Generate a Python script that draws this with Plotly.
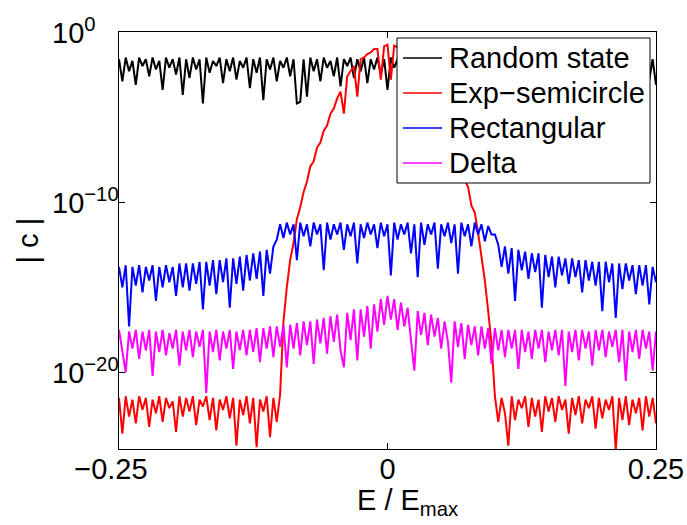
#%% Libraries
import numpy as np
import plotly.graph_objects as go

#%% Data (log10 |c|, 161 samples from E=-0.25 to 0.25)
log_random = [-1.6,-2.9,-1.5,-2.3,-1.7,-3.1,-1.5,-2.0,-1.6,-2.6,-1.5,-2.2,-1.7,-3.4,-1.5,-2.1,-1.6,-2.5,-1.5,-3.7,
              -1.6,-2.7,-1.5,-2.2,-1.6,-4.2,-1.5,-2.4,-1.7,-2.0,-1.5,-3.0,-1.6,-2.3,-1.5,-2.8,-1.7,-2.1,-1.5,-3.3,
              -1.6,-2.4,-1.5,-4.0,-1.6,-2.2,-1.5,-2.9,-1.7,-2.1,-1.5,-2.6,-1.6,-4.2,-4.1,-1.6,-3.8,-1.5,-2.3,-1.6,
              -2.9,-1.5,-2.1,-1.7,-2.6,-1.5,-3.2,-1.6,-2.0,-1.5,-2.7,-1.6,-2.3,-1.5,-3.0,-1.6,-2.2,-1.5,-2.5,-1.6,
              -3.4,-1.5,-2.1,-1.6,-2.8,-1.5,-2.3,-1.7,-3.6,-1.5,-2.0,-1.6,-2.6,-1.5,-2.2,-1.6,-3.1,-1.5,-2.4,-1.6,
              -2.0,-1.5,-2.9,-1.6,-2.2,-1.5,-2.7,-1.7,-2.1,-1.5,-3.5,-1.6,-2.3,-1.5,-2.6,-1.6,-2.0,-1.5,-3.0,-1.6,
              -2.2,-1.5,-2.8,-1.6,-2.1,-1.5,-3.9,-1.6,-2.4,-1.5,-2.0,-1.7,-2.7,-1.5,-2.2,-1.6,-3.2,-1.5,-2.5,-1.6,
              -2.1,-1.5,-2.9,-1.6,-2.3,-1.5,-3.4,-1.6,-2.0,-1.5,-2.6,-1.7,-2.2,-1.5,-3.0,-1.6,-2.4,-1.5,-2.8,-1.6,
              -3.1]

log_expsc = [-21.5,-23.6,-21.4,-22.6,-21.6,-23.0,-21.4,-22.2,-21.5,-23.2,-21.6,-22.4,-21.4,-22.9,-21.5,-22.1,-21.7,-23.5,-21.4,-22.6,
             -21.5,-22.3,-21.4,-23.1,-21.6,-22.0,-21.4,-22.8,-21.5,-23.4,-21.6,-22.2,-21.4,-22.7,-21.5,-24.3,-21.6,-22.5,-21.4,-23.0,
             -21.5,-24.4,-21.6,-22.3,-21.4,-23.8,-21.5,-22.9,
             -21.3,-17.0,-15.0,-13.4,-12.4,-11.0,-10.3,-9.4,-8.8,-7.9,-7.6,-6.8,-6.5,-5.8,-5.5,-4.8,-4.5,-3.9,-3.5,-4.8,
             -2.6,-2.3,-2.0,-3.8,-1.6,-1.5,-1.3,-1.2,-1.0,-1.0,-2.8,-0.85,-0.75,
             -2.8,-0.8,-0.9,-1.4,-1.0,-1.1,-1.6,-1.4,-1.5,-2.3,-1.9,-2.2,-2.9,-2.9,-3.3,-4.2,-4.3,-4.9,-5.9,-6.2,
             -7.0,-8.1,-8.7,-9.1,-10.2,-10.6,-11.8,-13.2,-14.6,-16.4,-18.3,-21.4,
             -22.9,-21.5,-22.4,-24.3,-21.4,-22.8,-21.6,-22.1,-21.4,-23.2,-21.5,-22.6,-21.6,-23.5,-21.4,-22.3,-21.5,-22.9,-21.4,-22.2,
             -21.6,-23.6,-21.5,-22.5,-21.4,-23.0,-21.6,-22.1,-21.4,-23.3,-21.5,-22.7,-21.6,-22.2,-21.4,-24.6,-21.5,-22.8,-21.4,-23.1,
             -21.6,-22.4,-21.5,-23.4,-21.4,-22.6,-21.5,-23.0]

log_rect = [-13.8,-15.0,-13.7,-17.3,-13.8,-14.9,-13.7,-15.3,-13.8,-14.6,-13.7,-15.8,-13.8,-15.0,-13.7,-14.7,-13.8,-15.5,-13.6,-15.0,
            -13.6,-15.2,-13.6,-14.8,-13.5,-16.3,-13.5,-14.9,-13.4,-15.4,-13.4,-14.7,-13.3,-16.2,-13.3,-14.8,-13.2,-15.2,-13.1,-14.6,
            -13.0,-14.5,-12.9,-15.5,-12.8,-14.2,-12.6,-12.2,
            -11.3,-12.1,-11.2,-11.9,-11.3,-13.4,-11.2,-12.0,-11.3,-12.6,-11.2,-11.9,-11.3,-14.0,-11.2,-12.2,-11.3,-11.9,-11.2,-12.8,
            -11.3,-12.0,-11.2,-13.6,-11.3,-12.1,-11.2,-11.9,-11.3,-12.7,-11.2,-12.0,-11.3,-14.3,-11.2,-12.2,-11.3,-11.9,-11.2,-13.0,
            -11.3,-14.4,-11.2,-12.5,-11.3,-11.9,-11.2,-13.9,-11.3,-12.0,-11.2,-12.4,-11.3,-14.2,-11.2,-12.0,-11.3,-12.6,-11.2,-11.9,
            -11.3,-12.3,-11.4,-11.9,-11.9,
            -12.5,-13.8,-12.6,-14.2,-12.7,-15.8,-12.8,-14.0,-12.9,-14.5,-13.0,-14.1,-13.0,-16.2,-13.1,-14.4,-13.2,-15.0,-13.2,-14.3,
            -13.3,-14.8,-13.3,-14.4,-13.4,-15.3,-13.4,-14.6,-13.5,-14.9,-13.5,-16.4,-13.5,-14.7,-13.6,-16.8,-13.6,-15.1,-13.6,-14.6,
            -13.7,-15.4,-13.7,-14.9,-13.7,-16.0,-13.8,-14.7]

log_delta = [-17.5,-18.9,-20.0,-17.6,-18.6,-17.5,-19.2,-17.6,-18.7,-17.5,-20.2,-17.6,-18.8,-17.5,-19.0,-17.7,-18.6,-17.5,-19.6,-17.6,
             -18.7,-17.5,-19.1,-17.6,-18.5,-17.5,-21.2,-17.6,-18.8,-17.5,-19.3,-17.6,-18.6,-17.5,-19.8,-17.6,-18.7,-17.5,-19.0,-17.5,
             -18.8,-17.4,-19.4,-17.4,-18.6,-17.3,-19.1,-17.3,-18.5,-17.2,-19.7,-17.2,-18.6,-17.1,-19.0,-17.0,-18.4,-17.0,-19.5,-16.9,
             -18.3,-16.8,-18.9,-16.7,-18.2,-16.6,-18.7,-19.7,-16.5,-18.1,-16.3,-19.3,-16.3,-17.9,-16.1,-18.6,-16.0,-17.6,-15.7,-17.2,
             -15.5,-16.9,-15.7,-17.5,-15.9,-17.3,-16.2,-18.1,-19.9,-16.4,-17.8,-16.5,-18.4,-16.6,-17.9,-16.8,-18.6,-17.0,-18.2,-20.6,
             -17.0,-18.5,-17.1,-19.2,-17.2,-18.4,-17.3,-19.0,-17.3,-18.6,-17.4,-19.5,-17.4,-18.7,-17.5,-19.1,-17.5,-18.6,-17.5,-19.8,
             -17.5,-18.8,-17.6,-19.2,-17.5,-18.6,-17.5,-19.4,-17.6,-18.7,-17.5,-19.0,-17.5,-20.8,-17.6,-18.8,-17.5,-19.3,-17.5,-18.6,
             -17.6,-19.6,-17.5,-18.7,-17.5,-19.1,-17.6,-18.5,-17.5,-19.4,-17.5,-20.5,-17.6,-18.8,-17.5,-19.2,-17.5,-18.6,-17.6,-19.9,
             -17.6]

series_names = ['Random state', 'Exp\u2212semicircle', 'Rectangular', 'Delta']
series_colors = ['#000000', '#ff0000', '#0000ff', '#ff00ff']

x_ticks = [-0.25, 0, 0.25]
x_ticklabels = ['\u22120.25\u00a0\u00a0', '0', '0.25']
y_ticks = [1e-20, 1e-10, 1]
y_ticklabels = ['10<sup>\u221220</sup>', '10<sup>\u221210</sup>', '10<sup>0</sup>']

for s in [log_random, log_expsc, log_rect, log_delta]:
    assert len(s) == 161, len(s)

E = np.linspace(-0.25, 0.25, 161)

#%% Figure
FONT = 'Liberation Sans, Arial, Helvetica, sans-serif'
L, R, T, B = 119, 656, 32, 449      # plot box in pixels
def px(x):  return (x - L) / (R - L)
def py(y):  return (B - y) / (B - T)

fig = go.Figure()
for name, vals, col in zip(series_names, [log_random, log_expsc, log_rect, log_delta], series_colors):
    fig.add_trace(go.Scatter(x=E, y=10.0**np.array(vals), mode='lines', name=name,
                             line=dict(color=col, width=2), showlegend=False))

# y tick labels: MATLAB keeps the "10" base left aligned
for v, t in zip(y_ticks, y_ticklabels):
    fig.add_annotation(x=px(50), y=np.log10(v), xref='paper', yref='y', text=t,
                       showarrow=False, xanchor='left', yanchor='middle', yshift=1,
                       font=dict(size=29, color='black', family=FONT))

# axis labels
fig.add_annotation(x=px(27), y=0.5, xref='paper', yref='paper', text='| c |',
                   textangle=-90, showarrow=False, xanchor='center', yanchor='middle',
                   font=dict(size=29, color='black', family=FONT))
fig.add_annotation(x=px(355), y=py(502), xref='paper', yref='paper',
                   text='E / E<sub>max</sub>', showarrow=False, xanchor='left', yanchor='middle',
                   font=dict(size=29, color='black', family=FONT))

# legend box drawn by hand (MATLAB style)
fig.add_shape(type='rect', xref='paper', yref='paper', x0=px(397), x1=px(650), y0=py(183), y1=py(38),
              fillcolor='white', line=dict(color='black', width=1), layer='above')
for k, (name, col) in enumerate(zip(series_names, series_colors)):
    yc = 58 + 35 * k
    fig.add_shape(type='line', xref='paper', yref='paper', x0=px(403), x1=px(442), y0=py(yc), y1=py(yc),
                  line=dict(color=col, width=1.5), layer='above')
    fig.add_annotation(x=px(447), y=py(yc), xref='paper', yref='paper', text=name,
                       showarrow=False, xanchor='left', yanchor='middle',
                       font=dict(size=29, color='black', family=FONT))

fig.update_xaxes(range=[-0.25, 0.25], tickvals=x_ticks, ticktext=x_ticklabels,
                 ticks='inside', ticklen=6, tickcolor='black', showline=True, linecolor='black',
                 linewidth=1, mirror='ticks', showgrid=False, zeroline=False, ticklabelstandoff=-6,
                 automargin=False, tickfont=dict(size=29, color='black', family=FONT))
fig.update_yaxes(type='log', range=[-24.5, 0], tickvals=y_ticks, showticklabels=False,
                 ticks='inside', ticklen=6, tickcolor='black', showline=True, linecolor='black',
                 linewidth=1, mirror='ticks', showgrid=False, zeroline=False, automargin=False)

fig.update_layout(width=687, height=525, plot_bgcolor='white', paper_bgcolor='white',
                  margin=dict(l=L, r=687 - R, t=T, b=525 - B, autoexpand=False),
                  font=dict(family=FONT, size=29, color='black'), showlegend=False)

# page body margin would push the figure 8px off the corner
fig.write_html("out.html", config={'displayModeBar': False},
               post_script="document.body.style.margin='0';document.body.style.overflow='hidden';")
